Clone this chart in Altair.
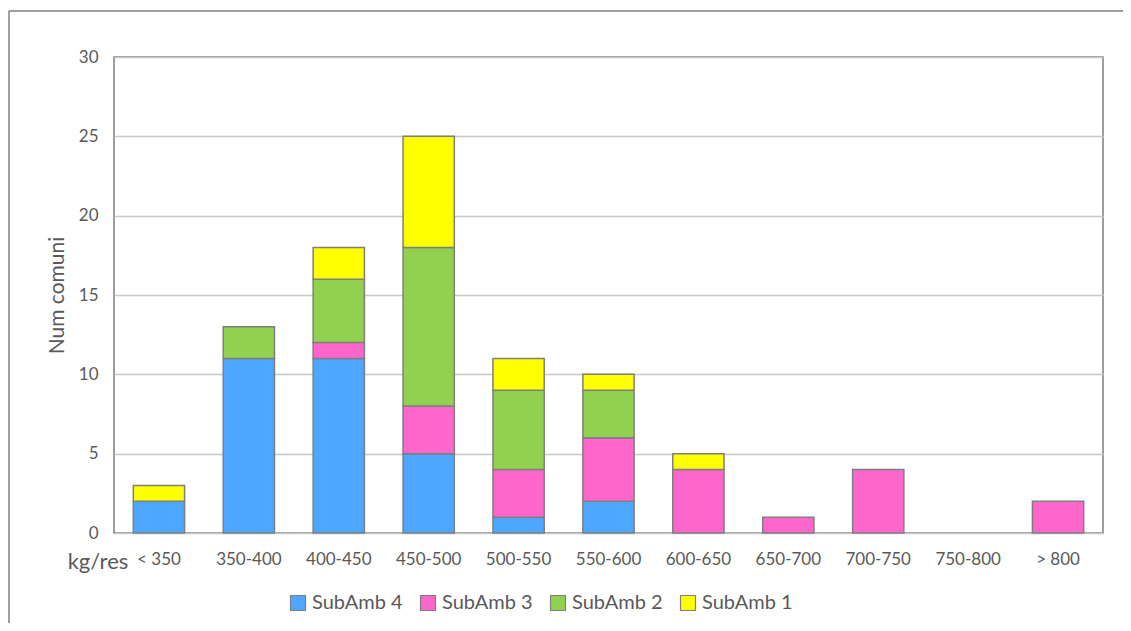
import altair as alt
import pandas as pd

categories = ["< 350", "350-400", "400-450", "450-500", "500-550", "550-600",
              "600-650", "650-700", "700-750", "750-800", "> 800"]
series = ["SubAmb 4", "SubAmb 3", "SubAmb 2", "SubAmb 1"]
colors = ["#4DA6FF", "#FF66CC", "#92D050", "#FFFF00"]
sub4 = [2, 11, 11, 5, 1, 2, 0, 0, 0, 0, 0]
sub3 = [0, 0, 1, 3, 3, 4, 4, 1, 4, 0, 2]
sub2 = [0, 2, 4, 10, 5, 3, 0, 0, 0, 0, 0]
sub1 = [1, 0, 2, 7, 2, 1, 1, 0, 0, 0, 0]

rows = []
for idx, (name, vals) in enumerate(zip(series, [sub4, sub3, sub2, sub1])):
    for c, v in zip(categories, vals):
        if v > 0:
            rows.append({"cat": c, "serie": name, "val": v, "ord": idx})
df = pd.DataFrame(rows)

FONT = "Lato"
GREY = "#595959"
W, H = 989, 476

bars = alt.Chart(df).mark_bar(stroke="#7F7F7F", strokeWidth=1.5).encode(
    x=alt.X("cat:N", sort=categories, title=None,
            scale=alt.Scale(domain=categories, paddingInner=0.43, paddingOuter=0.215),
            axis=alt.Axis(labelAngle=0, ticks=False, domain=False, labelPadding=18,
                          labelFontSize=17, labelColor=GREY, labelFont=FONT)),
    y=alt.Y("val:Q", stack="zero", title="Num comuni",
            scale=alt.Scale(domain=[0, 30], nice=False),
            axis=alt.Axis(values=[0, 5, 10, 15, 20, 25, 30], ticks=False, domain=False,
                          labelPadding=16, labelFontSize=17, labelColor=GREY, labelFont=FONT,
                          gridColor="#C8C8C8", gridWidth=1.5,
                          titleFontSize=21, titleFont=FONT, titleColor=GREY,
                          titleFontWeight="normal", titlePadding=11)),
    color=alt.Color("serie:N", scale=alt.Scale(domain=series, range=colors),
                    legend=alt.Legend(title=None, orient="none", direction="horizontal",
                                      legendX=174, legendY=536,
                                      symbolType="square", symbolSize=225,
                                      symbolStrokeColor="#7F7F7F", symbolStrokeWidth=1.2,
                                      labelFontSize=20, labelFont=FONT, labelColor=GREY,
                                      columnPadding=15, labelOffset=4)),
    order=alt.Order("ord:Q"),
)

unit_label = alt.Chart(pd.DataFrame({"t": ["kg/res"]})).mark_text(
    fontSize=22, font=FONT, color=GREY, align="center", baseline="middle"
).encode(x=alt.value(-16), y=alt.value(505), text="t:N")

frame_left = alt.Chart(pd.DataFrame({"a": [0]})).mark_rule(
    color="#7F7F7F", strokeWidth=1.5
).encode(x=alt.value(-105), y=alt.value(-46), y2=alt.value(H + 120))

frame_top = alt.Chart(pd.DataFrame({"a": [0]})).mark_rule(
    color="#7F7F7F", strokeWidth=1.5
).encode(x=alt.value(-105), x2=alt.value(W + 60), y=alt.value(-46))

chart = alt.layer(bars, unit_label, frame_left, frame_top).properties(
    width=W, height=H, autosize="none",
    padding={"left": 106, "top": 49, "right": 20, "bottom": 90},
    background="white",
).configure_view(stroke="#7F7F7F", strokeWidth=1.5)

chart.save("out.html", embed_options={"renderer": "svg", "actions": False})
